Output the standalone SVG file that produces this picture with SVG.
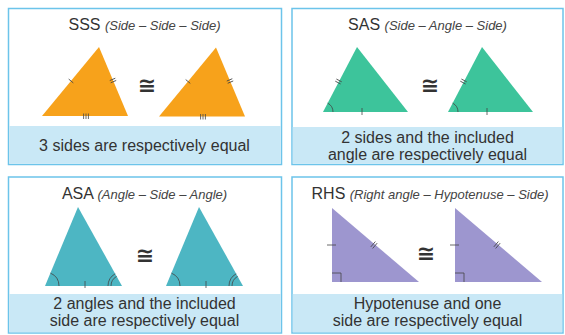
<svg xmlns="http://www.w3.org/2000/svg" width="565" height="335" viewBox="0 0 565 335">
<style>
.panel{fill:#ffffff;stroke:#6cc4ea;stroke-width:1.5}
.band{fill:#c9e8f6}
.title{font-family:"Liberation Sans",Arial,sans-serif;font-size:16px;fill:#333333}
.sub{font-family:"Liberation Sans",Arial,sans-serif;font-size:13px;font-style:italic;fill:#444444}
.cap{font-family:"Liberation Sans",Arial,sans-serif;font-size:16px;fill:#333333;text-anchor:middle}
.cong{font-family:"DejaVu Sans",sans-serif;font-size:22px;font-weight:bold;fill:#333333;text-anchor:middle}
.mk{fill:none;stroke:#444444;stroke-width:0.8}
.orange{fill:#f7a21b}
.green{fill:#3dc49b}
.teal{fill:#4db6c3}
.purple{fill:#9d96cf}
</style>
<rect width="565" height="335" fill="#ffffff"/>

<g id="panel-sss">
<rect class="panel" x="8.5" y="8.5" width="273" height="156"/>
<rect class="band" x="9.25" y="126" width="271.5" height="37.75"/>
<text class="title" x="144.5" y="30" text-anchor="middle">SSS <tspan class="sub">(Side – Side – Side)</tspan></text>
<text class="cap" x="144.5" y="151">3 sides are respectively equal</text>
<text class="cong" x="147" y="93">≅</text>
</g>
<g id="tri-sss-1">
<polygon class="orange" points="99,47 42,116 128,116"/>
<g transform="translate(71,81) rotate(-50.4)"><line class="mk" x1="0" y1="-3" x2="0" y2="3"/></g>
<g transform="translate(113,80.5) rotate(67.2)"><line class="mk" x1="-1.2" y1="-3" x2="-1.2" y2="3"/><line class="mk" x1="1.2" y1="-3" x2="1.2" y2="3"/></g>
<g transform="translate(86,116)"><line class="mk" x1="-2.4" y1="-2.5" x2="-2.4" y2="3"/><line class="mk" x1="0" y1="-2.5" x2="0" y2="3"/><line class="mk" x1="2.4" y1="-2.5" x2="2.4" y2="3"/></g>
</g>
<g id="tri-sss-2" transform="translate(117,0.5)">
<polygon class="orange" points="99,47 42,116 128,116"/>
<g transform="translate(71,81) rotate(-50.4)"><line class="mk" x1="0" y1="-3" x2="0" y2="3"/></g>
<g transform="translate(113,80.5) rotate(67.2)"><line class="mk" x1="-1.2" y1="-3" x2="-1.2" y2="3"/><line class="mk" x1="1.2" y1="-3" x2="1.2" y2="3"/></g>
<g transform="translate(86,116)"><line class="mk" x1="-2.4" y1="-2.5" x2="-2.4" y2="3"/><line class="mk" x1="0" y1="-2.5" x2="0" y2="3"/><line class="mk" x1="2.4" y1="-2.5" x2="2.4" y2="3"/></g>
</g>

<g id="panel-sas">
<rect class="panel" x="292" y="8.5" width="271" height="156"/>
<rect class="band" x="292.75" y="127" width="269.5" height="36.75"/>
<text class="title" x="427.5" y="30" text-anchor="middle">SAS <tspan class="sub">(Side – Angle – Side)</tspan></text>
<text class="cap" x="427.5" y="143">2 sides and the included</text>
<text class="cap" x="427.5" y="159.5">angle are respectively equal</text>
<text class="cong" x="430" y="93">≅</text>
</g>
<g id="tri-sas-1">
<polygon class="green" points="357,47 323,112 408,112"/>
<g transform="translate(338.5,81.5) rotate(-62.4)"><line class="mk" x1="-1.2" y1="-3" x2="-1.2" y2="3"/><line class="mk" x1="1.2" y1="-3" x2="1.2" y2="3"/></g>
<line class="mk" x1="362" y1="108" x2="362" y2="115"/>
<path class="mk" d="M333,112 A10,10 0 0 0 327.6,103.1"/>
</g>
<g id="tri-sas-2" transform="translate(125,0)">
<polygon class="green" points="357,47 323,112 408,112"/>
<g transform="translate(338.5,81.5) rotate(-62.4)"><line class="mk" x1="-1.2" y1="-3" x2="-1.2" y2="3"/><line class="mk" x1="1.2" y1="-3" x2="1.2" y2="3"/></g>
<line class="mk" x1="362" y1="108" x2="362" y2="115"/>
<path class="mk" d="M333,112 A10,10 0 0 0 327.6,103.1"/>
</g>

<g id="panel-asa">
<rect class="panel" x="8.5" y="177" width="273" height="156"/>
<rect class="band" x="9.25" y="294" width="271.5" height="38.25"/>
<text class="title" x="144.5" y="199" text-anchor="middle">ASA <tspan class="sub">(Angle – Side – Angle)</tspan></text>
<text class="cap" x="144.5" y="308.5">2 angles and the included</text>
<text class="cap" x="144.5" y="325.5">side are respectively equal</text>
<text class="cong" x="145" y="263">≅</text>
</g>
<g id="tri-asa-1">
<polygon class="teal" points="78,207 45,286 122,286"/>
<line class="mk" x1="85" y1="281" x2="85" y2="288"/>
<path class="mk" d="M59,286 A14,14 0 0 0 50.4,273.1"/>
<path class="mk" d="M111,286 A11,11 0 0 1 116.6,276.4"/>
<path class="mk" d="M108,286 A14,14 0 0 1 115.2,273.8"/>
</g>
<g id="tri-asa-2" transform="translate(121,0)">
<polygon class="teal" points="78,207 45,286 122,286"/>
<line class="mk" x1="85" y1="281" x2="85" y2="288"/>
<path class="mk" d="M59,286 A14,14 0 0 0 50.4,273.1"/>
<path class="mk" d="M111,286 A11,11 0 0 1 116.6,276.4"/>
<path class="mk" d="M108,286 A14,14 0 0 1 115.2,273.8"/>
</g>

<g id="panel-rhs">
<rect class="panel" x="292" y="177" width="271" height="156"/>
<rect class="band" x="292.75" y="294" width="269.5" height="38.25"/>
<text class="title" x="430" y="199" text-anchor="middle">RHS <tspan class="sub">(Right angle – Hypotenuse – Side)</tspan></text>
<text class="cap" x="427.5" y="308.5">Hypotenuse and one</text>
<text class="cap" x="427.5" y="325.5">side are respectively equal</text>
<text class="cong" x="426" y="261">≅</text>
</g>
<g id="tri-rhs-1">
<polygon class="purple" points="332,208 332,282 419,282"/>
<line class="mk" x1="327" y1="245" x2="336" y2="245"/>
<g transform="translate(374,245) rotate(40.4)"><line class="mk" x1="-1.2" y1="-3.5" x2="-1.2" y2="3.5"/><line class="mk" x1="1.2" y1="-3.5" x2="1.2" y2="3.5"/></g>
<polyline class="mk" points="332,273 341,273 341,282"/>
</g>
<g id="tri-rhs-2" transform="translate(123,0)">
<polygon class="purple" points="332,208 332,282 419,282"/>
<line class="mk" x1="327" y1="245" x2="336" y2="245"/>
<g transform="translate(374,245) rotate(40.4)"><line class="mk" x1="-1.2" y1="-3.5" x2="-1.2" y2="3.5"/><line class="mk" x1="1.2" y1="-3.5" x2="1.2" y2="3.5"/></g>
<polyline class="mk" points="332,273 341,273 341,282"/>
</g>
<g id="connectors"></g>
</svg>
